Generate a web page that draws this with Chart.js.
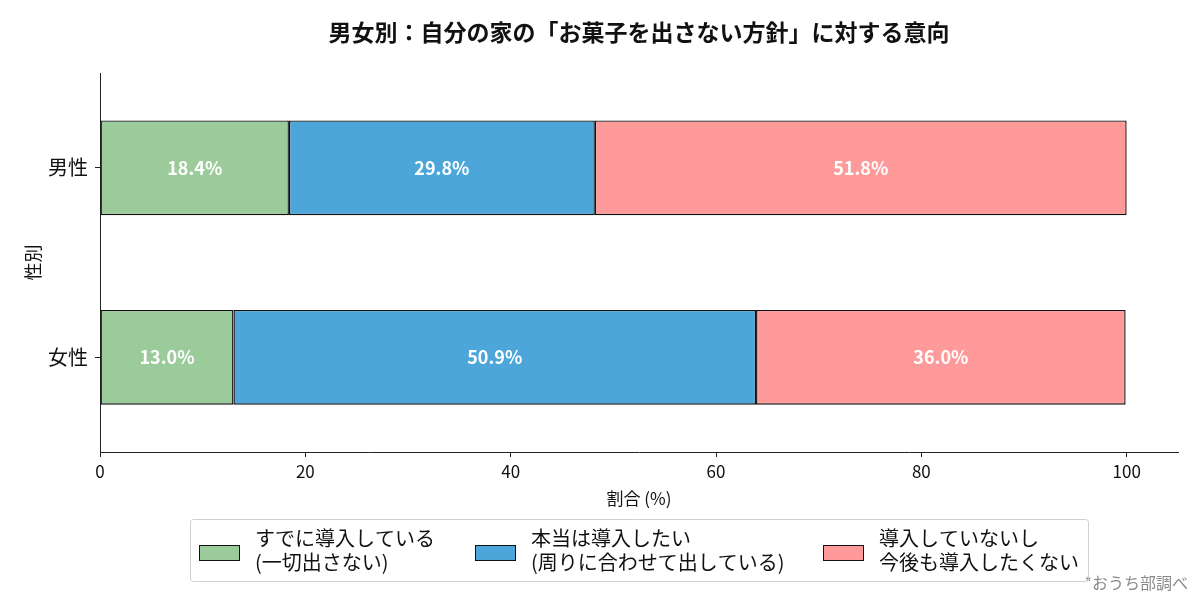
<!DOCTYPE html>
<html lang="ja">
<head>
<meta charset="utf-8">
<script src="https://cdn.jsdelivr.net/npm/chart.js@4.4.1/dist/chart.umd.min.js"></script>
<style>
  html, body { margin: 0; padding: 0; background: #fff; }
  #wrap { width: 1200px; height: 600px; }
</style>
</head>
<body>
<div id="wrap"><canvas id="chart" width="1200" height="600"></canvas></div>
<script>
const FONT = '"Noto Sans CJK JP", "Noto Sans", sans-serif';

const titleText = "男女別：自分の家の「お菓子を出さない方針」に対する意向";
const genders = ["男性", "女性"];
const seriesNames = [
  ["すでに導入している", "(一切出さない)"],
  ["本当は導入したい", "(周りに合わせて出している)"],
  ["導入していないし", "今後も導入したくない"]
];
const alreadyValues = [18.4, 13.0];
const wantValues = [29.8, 50.9];
const notValues = [51.8, 36.0];
const xTicks = [0, 20, 40, 60, 80, 100];
const sourceNote = "*おうち部調べ";

const colors = ["#9bcb9b", "#4ca6da", "#ff9a9a"];

// title centred over the plot, source note bottom right
const titlePlugin = {
  id: "titleNote",
  afterDraw(chart) {
    const { ctx, chartArea } = chart;
    ctx.save();
    ctx.fillStyle = "#111";
    ctx.font = "bold 23px " + FONT;
    ctx.textAlign = "center";
    ctx.textBaseline = "middle";
    ctx.fillText(titleText, (chartArea.left + chartArea.right) / 2, 32);

    ctx.fillStyle = "#8a8a8a";
    ctx.font = "16px " + FONT;
    ctx.textAlign = "right";
    ctx.fillText(sourceNote, 1188, 583);
    ctx.restore();
  }
};

// percentage labels inside each segment
const valueLabels = {
  id: "valueLabels",
  afterDatasetsDraw(chart) {
    const { ctx } = chart;
    ctx.save();
    ctx.fillStyle = "#fff";
    ctx.font = "bold 18px " + FONT;
    ctx.textAlign = "center";
    ctx.textBaseline = "middle";
    chart.data.datasets.forEach((ds, i) => {
      chart.getDatasetMeta(i).data.forEach((bar, j) => {
        const p = bar.getProps(["x", "y", "base"], true);
        ctx.fillText(ds.data[j].toFixed(1) + "%", (p.x + p.base) / 2, p.y);
      });
    });
    ctx.restore();
  }
};

// boxed legend under the x axis, two-line labels
const boxLegend = {
  id: "boxLegend",
  afterDraw(chart) {
    const { ctx } = chart;
    const box = { x: 190, y: 519, w: 898, h: 62 };
    const swatchX = [199, 475, 823];
    ctx.save();
    ctx.strokeStyle = "#d0d0d0";
    ctx.lineWidth = 1;
    ctx.beginPath();
    ctx.roundRect(box.x + 0.5, box.y + 0.5, box.w, box.h, 3);
    ctx.stroke();
    ctx.font = "20px " + FONT;
    ctx.textAlign = "left";
    ctx.textBaseline = "middle";
    chart.data.datasets.forEach((ds, i) => {
      const sx = swatchX[i];
      ctx.fillStyle = ds.backgroundColor;
      ctx.fillRect(sx, 545, 40, 15);
      ctx.strokeStyle = "#111";
      ctx.strokeRect(sx + 0.5, 545.5, 40, 15);
      ctx.fillStyle = "#111";
      ds.label.forEach((line, k) => ctx.fillText(line, sx + 56, 538 + k * 24));
    });
    ctx.restore();
  }
};

const makeSet = (i, data) => ({
  label: seriesNames[i],
  data: data,
  backgroundColor: colors[i],
  borderColor: "#111",
  borderWidth: 1.4,
  borderSkipped: false,
  barPercentage: 0.5,
  categoryPercentage: 1.0
});

new Chart(document.getElementById("chart"), {
  type: "bar",
  data: {
    labels: genders,
    datasets: [
      makeSet(0, alreadyValues),
      makeSet(1, wantValues),
      makeSet(2, notValues)
    ]
  },
  options: {
    indexAxis: "y",
    responsive: false,
    animation: false,
    layout: { padding: { top: 73, right: 22, bottom: 0, left: 0 } },
    plugins: {
      legend: { display: false },
      title: { display: false },
      tooltip: { enabled: false }
    },
    scales: {
      x: {
        stacked: true,
        min: 0,
        max: 105,
        afterBuildTicks: s => { s.ticks = xTicks.map(v => ({ value: v })); },
        afterFit: s => { s.height = 148; },
        grid: { drawOnChartArea: false, drawTicks: true, tickLength: 5, tickColor: "#222" },
        border: { display: true, color: "#222", width: 1 },
        ticks: { color: "#111", padding: 4, font: { family: FONT, size: 17 } },
        title: {
          display: true,
          text: "割合 (%)",
          color: "#111",
          font: { family: FONT, size: 17 },
          padding: { top: 0, bottom: 91 }
        }
      },
      y: {
        stacked: true,
        afterFit: s => { s.width = 100; },
        grid: { offset: false, drawOnChartArea: false, drawTicks: true, tickLength: 5, tickColor: "#222" },
        border: { display: true, color: "#222", width: 1 },
        ticks: { color: "#111", padding: 7, font: { family: FONT, size: 20 } },
        title: {
          display: true,
          text: "性別",
          color: "#111",
          font: { family: FONT, size: 18 },
          padding: { top: 22, bottom: 0 }
        }
      }
    }
  },
  plugins: [titlePlugin, valueLabels, boxLegend]
});
</script>
</body>
</html>
